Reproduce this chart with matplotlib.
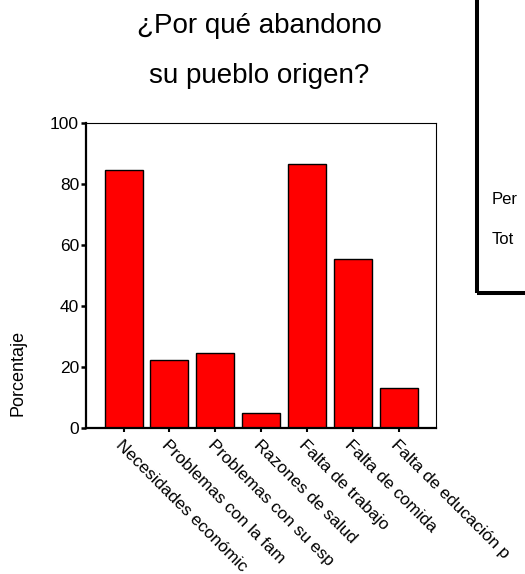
import matplotlib
matplotlib.use("Agg")
import matplotlib.pyplot as plt
from matplotlib.patches import Rectangle
from matplotlib.transforms import ScaledTranslation

plt.rcParams["font.family"] = ["Liberation Sans", "DejaVu Sans"]

# Datos (respuestas multiples, porcentaje)
motivos = [
    "Necesidades económic",
    "Problemas con la fam",
    "Problemas con su esp",
    "Razones de salud",
    "Falta de trabajo",
    "Falta de comida",
    "Falta de educación p",
]
porcentajes = [84.6, 22.4, 24.5, 4.8, 86.4, 55.3, 13.2]
yticks = [0, 20, 40, 60, 80, 100]
# filas de la tabla recortada a la derecha (solo se ve el comienzo)
filas_tabla = ["Per", "Tot"]

fig = plt.figure(figsize=(5.25, 5.74), dpi=100)
ax = fig.add_axes([0.1638, 0.2544, 0.666, 0.5319])

x = range(len(motivos))
ax.bar(x, porcentajes, width=0.83, color="#ff0000", edgecolor="black", linewidth=1.0)

ax.set_xlim(-0.82, len(motivos) - 1 + 0.81)
ax.set_ylim(0, 100)
ax.set_yticks(yticks)
ax.set_yticklabels([str(v) for v in yticks], fontsize=12.5)
ax.set_xticks(list(x))
ax.set_xticklabels(motivos, fontsize=12.4, rotation=-45, ha="left", va="top",
                   rotation_mode="anchor")
offset = ScaledTranslation(0.07, 0, fig.dpi_scale_trans)
for lab in ax.get_xticklabels():
    lab.set_transform(lab.get_transform() + offset)

ax.tick_params(axis="y", direction="out", length=3.5, width=1.8, pad=1.5)
ax.tick_params(axis="x", direction="out", length=3, width=1.5, pad=4)

for side in ["left", "bottom"]:
    ax.spines[side].set_linewidth(1.6)
for side in ["top", "right"]:
    ax.spines[side].set_linewidth(0.8)

# Titulo en dos lineas
fig.text(0.494, 0.9425, "¿Por qué abandono", fontsize=20, ha="center", va="baseline")
fig.text(0.494, 0.8554, "su pueblo origen?", fontsize=20, ha="center", va="baseline")

fig.text(0.035, 0.350, "Porcentaje", fontsize=13, rotation=90, ha="center", va="center")

# Tabla recortada a la derecha
fig.patches.append(Rectangle((0.9086, 0.4895), 0.3, 0.7, transform=fig.transFigure,
                             fill=False, edgecolor="black", linewidth=2.9))
fig.text(0.937, 0.6533, filas_tabla[0], fontsize=12, ha="left", va="center")
fig.text(0.937, 0.5819, filas_tabla[1], fontsize=12, ha="left", va="center")

fig.savefig("out.png", dpi=100)
